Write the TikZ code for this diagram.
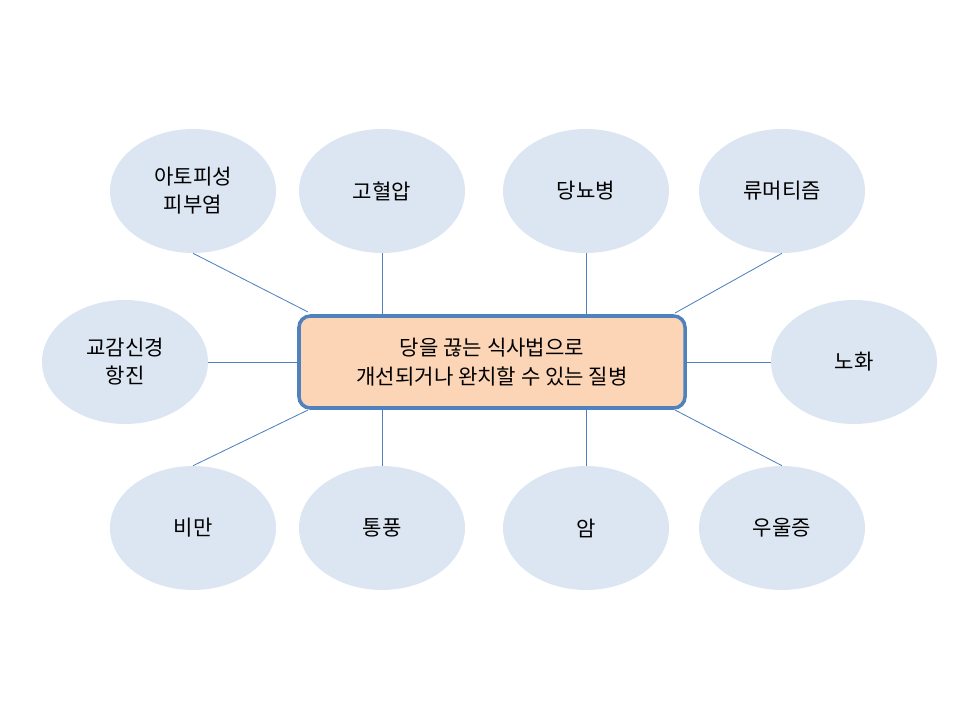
\documentclass[tikz,border=0pt]{standalone}
\usepackage{fontspec}
\setmainfont{Noto Sans CJK KR}
\usetikzlibrary{shapes.geometric}
\definecolor{ellfill}{HTML}{DCE6F2}
\definecolor{boxfill}{HTML}{FBD5B5}
\definecolor{boxdraw}{HTML}{4F81BD}
\begin{document}
\begin{tikzpicture}[x=0.025cm,y=-0.025cm,
  ell/.style={ellipse,fill=ellfill,minimum width=166*0.025cm,minimum height=124*0.025cm,inner sep=0pt,align=center,font=\fontsize{15}{20}\selectfont},
  cbox/.style={rectangle,rounded corners=8pt,fill=boxfill,draw=boxdraw,line width=2.5pt,minimum width=386*0.025cm,minimum height=92*0.025cm,align=center,font=\fontsize{15}{21}\selectfont},
  conn/.style={draw=boxdraw,line width=0.6pt}]
\useasboundingbox (0,0) rectangle (960,720);
\node[ell] (a) at (193,191) {아토피성\\피부염};
\node[ell] (b) at (382,191) {고혈압};
\node[ell] (c) at (586,191) {당뇨병};
\node[ell] (d) at (782,191) {류머티즘};
\node[ell] (e) at (125,362) {교감신경\\항진};
\node[ell] (f) at (854,362) {노화};
\node[ell] (g) at (193,528) {비만};
\node[ell] (h) at (382,528) {통풍};
\node[ell] (i) at (586,528) {암};
\node[ell] (j) at (782,528) {우울증};
\coordinate (nw) at (308,312);
\coordinate (ne) at (675,313);
\coordinate (sw) at (308,410);
\coordinate (se) at (675,410);
\draw[conn] (a.south) -- (nw);
\draw[conn] (d.south) -- (ne);
\draw[conn] (g.north) -- (sw);
\draw[conn] (j.north) -- (se);
\node[cbox] (m) at (492,362) {당을 끊는 식사법으로\\개선되거나 완치할 수 있는 질병};
\draw[conn] (b.south) -- (b.south |- m.north);
\draw[conn] (c.south) -- (c.south |- m.north);
\draw[conn] (h.north) -- (h.north |- m.south);
\draw[conn] (i.north) -- (i.north |- m.south);
\draw[conn] (e.east) -- (m.west);
\draw[conn] (f.west) -- (m.east);
\end{tikzpicture}
\end{document}
